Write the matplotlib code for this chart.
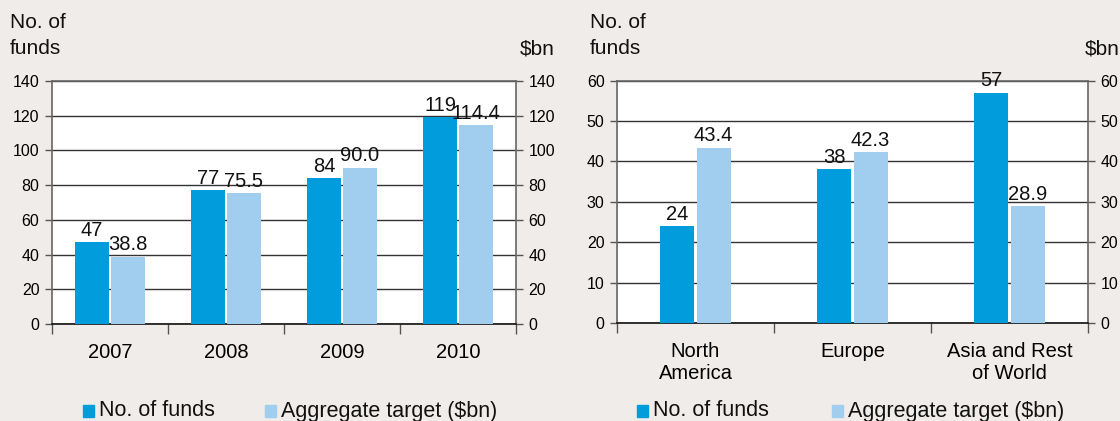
import numpy as np
import matplotlib.pyplot as plt

plt.rcParams['font.family'] = ['Liberation Sans', 'DejaVu Sans']

# left panel: by year
years = ['2007', '2008', '2009', '2010']
funds_year = [47, 77, 84, 119]
target_year = [38.8, 75.5, 90.0, 114.4]

# right panel: by region
regions = ['North\nAmerica', 'Europe', 'Asia and Rest\nof World']
funds_region = [24, 38, 57]
target_region = [43.4, 42.3, 28.9]

dark = '#009cdb'
light = '#a1cdee'
bg = '#f0ece9'

W, H = 1120, 421
fig = plt.figure(figsize=(W / 100, H / 100), dpi=100)
fig.patch.set_facecolor(bg)


def panel(rect, cats, funds, target, ymax, step, width, off):
    ax = fig.add_axes(rect)
    ax.set_facecolor('white')
    x = np.arange(len(cats))
    ax.bar(x - off, funds, width, color=dark, zorder=3)
    ax.bar(x + off, target, width, color=light, zorder=3)
    for xi, v in zip(x, funds):
        ax.text(xi - off, v + ymax * 0.01, str(v), ha='center', va='bottom',
                fontsize=14.5, color='#111111', zorder=4)
    for xi, v in zip(x, target):
        ax.text(xi + off, v + ymax * 0.01, '%.1f' % v, ha='center', va='bottom',
                fontsize=14.5, color='#111111', zorder=4)
    ax.set_xlim(-0.5, len(cats) - 0.5)
    ax.set_ylim(0, ymax)
    yt = np.arange(0, ymax + 1, step)
    ax.set_yticks(yt)
    ax.grid(axis='y', color='#333333', linewidth=1.0, zorder=1)
    ax.tick_params(axis='y', direction='out', length=5, width=1, color='#555555',
                   labelsize=11.5, right=True, labelright=True, pad=4)
    # category boundaries as ticks, labels as minor
    ax.set_xticks(np.arange(-0.5, len(cats), 1.0))
    ax.set_xticklabels([])
    ax.tick_params(axis='x', which='major', direction='out', length=7, width=1,
                   color='#555555')
    ax.set_xticks(x, minor=True)
    ax.set_xticklabels(cats, minor=True, fontsize=14.5, linespacing=1.15)
    ax.tick_params(axis='x', which='minor', length=0, pad=14)
    for s in ['left', 'right', 'top']:
        ax.spines[s].set_color('#666666')
        ax.spines[s].set_linewidth(1.2)
    ax.spines['bottom'].set_color('#111111')
    ax.spines['bottom'].set_linewidth(1.2)
    return ax


panel([52 / W, 1 - 324 / H, (516 - 52) / W, (324 - 81) / H],
      years, funds_year, target_year, 140, 20, 0.293, 0.155)
panel([617 / W, 1 - 323 / H, (1088 - 617) / W, (323 - 80.6) / H],
      regions, funds_region, target_region, 60, 10, 0.217, 0.115)

# axis captions
for x0, x1 in [(10, 555), (590, 1120)]:
    fig.text(x0 / W, 1 - 22 / H, 'No. of', ha='left', va='center',
             fontsize=15, color='#111111')
    fig.text(x0 / W, 1 - 49 / H, 'funds', ha='left', va='center',
             fontsize=15, color='#111111')
    fig.text(x1 / W, 1 - 49 / H, '$bn', ha='right', va='center',
             fontsize=15, color='#111111')

# legends
for x0, x1 in [(83, 265), (637, 832)]:
    y = 1 - 411 / H
    fig.patches.append(plt.Rectangle((x0 / W, 1 - 417 / H), 11 / W, 12 / H,
                                     transform=fig.transFigure, color=dark))
    fig.text((x0 + 16) / W, y, 'No. of funds', ha='left', va='center',
             fontsize=15.5, color='#111111')
    fig.patches.append(plt.Rectangle((x1 / W, 1 - 417 / H), 11 / W, 12 / H,
                                     transform=fig.transFigure, color=light))
    fig.text((x1 + 16) / W, y, 'Aggregate target ($bn)', ha='left', va='center',
             fontsize=15.5, color='#111111')

fig.savefig('out.png', dpi=100, facecolor=bg)
